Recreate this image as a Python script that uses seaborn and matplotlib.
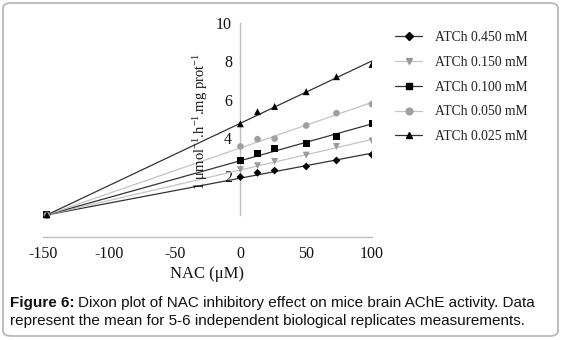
import numpy as np
import pandas as pd
import seaborn as sns
import matplotlib
matplotlib.use("Agg")
import matplotlib.pyplot as plt
from matplotlib.lines import Line2D
from matplotlib.patches import FancyBboxPatch

# ---- data ----
nac = [-147, 0, 13, 26, 50, 73, 100]
series_names = ["ATCh 0.450 mM", "ATCh 0.150 mM", "ATCh 0.100 mM", "ATCh 0.050 mM", "ATCh 0.025 mM"]
atch_0450 = [0.0, 1.97, 2.19, 2.31, 2.52, 2.83, 3.13]
atch_0150 = [0.0, 2.35, 2.56, 2.78, 3.11, 3.56, 3.85]
atch_0100 = [0.0, 2.83, 3.18, 3.47, 3.70, 4.08, 4.74]
atch_0050 = [0.0, 3.56, 3.94, 3.97, 4.65, 5.29, 5.76]
atch_0025 = [0.0, 4.74, 5.37, 5.64, 6.41, 7.19, 7.83]
x_ticks = [-150, -100, -50, 0, 50, 100]
y_ticks = [2, 4, 6, 8, 10]

sns.set_style("white")
plt.rcParams["font.family"] = ["Liberation Serif", "DejaVu Serif"]
plt.rcParams["mathtext.fontset"] = "custom"
plt.rcParams["mathtext.rm"] = "Liberation Serif"
plt.rcParams["mathtext.it"] = "Liberation Serif:italic"
plt.rcParams["axes.unicode_minus"] = False

W, H = 562, 340
fig = plt.figure(figsize=(W / 100, H / 100), dpi=100)
ax = fig.add_axes([43 / W, 1 - 237 / H, (372 - 43) / W, (237 - 22.7) / H])

styles = [
    dict(marker="D", ms=4.0, mc="#000000", lc="#333333"),
    dict(marker="v", ms=5.0, mc="#999999", lc="#c4c4c4"),
    dict(marker="s", ms=5.0, mc="#000000", lc="#333333"),
    dict(marker="o", ms=4.8, mc="#a0a0a0", lc="#c4c4c4"),
    dict(marker="^", ms=5.0, mc="#000000", lc="#333333"),
]
all_series = [atch_0450, atch_0150, atch_0100, atch_0050, atch_0025]

handles = []
xa = np.array(nac, dtype=float)
for name, vals, st in zip(series_names, all_series, styles):
    ya = np.array(vals, dtype=float)
    # trend line constrained through the common intersection point
    x0, y0 = xa[0], ya[0]
    slope = np.sum((xa[1:] - x0) * (ya[1:] - y0)) / np.sum((xa[1:] - x0) ** 2)
    fit_x = np.array([xa.min(), xa.max()])
    fit_y = y0 + slope * (fit_x - x0)
    sns.lineplot(x=fit_x, y=fit_y, ax=ax, color=st["lc"], lw=0.9, zorder=2)
    sns.scatterplot(x=xa, y=ya, ax=ax, marker=st["marker"], s=st["ms"] ** 2,
                    color=st["mc"], edgecolor="none", zorder=3)
    handles.append(Line2D([], [], color=st["lc"], lw=0.9, marker=st["marker"],
                          markersize=st["ms"], markerfacecolor=st["mc"],
                          markeredgecolor=st["mc"], label=name))

ax.set_xlim(-150, 100)
ax.set_ylim(-1.15, 10)
ax.set_xticks(x_ticks)
ax.set_xticklabels([str(v) for v in x_ticks])
ax.set_yticks(y_ticks)
ax.set_yticklabels([str(v) for v in y_ticks])

for s in ["top", "right"]:
    ax.spines[s].set_visible(False)
ax.spines["left"].set_position(("data", 0))
ax.spines["left"].set_bounds(0, 10)
for s in ["left", "bottom"]:
    ax.spines[s].set_color("#bdbdbd")
    ax.spines[s].set_linewidth(1.0)

ax.tick_params(axis="x", direction="in", length=4, width=0.8, color="#bdbdbd",
               labelsize=11.5, pad=6.5, labelcolor="#111111")
ax.tick_params(axis="y", direction="out", length=4, width=0.8, color="#bdbdbd",
               labelsize=11.5, pad=2, labelcolor="#111111")
ax.set_xlabel("NAC (μM)", fontsize=12, color="#111111", labelpad=3)
ax.set_ylabel("")
ax.text(-30, 4.85, r"1 μmol$^{-1}$.h$^{-1}$.mg prot$^{-1}$", rotation=90,
        ha="center", va="center", fontsize=10.5, color="#111111")

leg = fig.legend(handles=handles, loc="upper left", bbox_to_anchor=(383 / W, 1 - 19 / H),
                 frameon=False, fontsize=9.8, handlelength=2.0, labelspacing=0.86,
                 handletextpad=0.9)
for t in leg.get_texts():
    t.set_color("#222222")

# outer frame
frame = FancyBboxPatch((3 / W, 4 / H), (558 - 3) / W, (337 - 4) / H,
                       boxstyle="round,pad=0,rounding_size=0.015",
                       transform=fig.transFigure, fill=False,
                       edgecolor="#b8b8b8", lw=1.3)
fig.patches.append(frame)

# caption
cap_font = ["Liberation Sans", "DejaVu Sans"]
cap_size = 11
t1 = fig.text(10 / W, 1 - 302.5 / H, "Figure 6:", family=cap_font, weight="bold",
              fontsize=cap_size, va="center", ha="left", color="#111111")
fig.canvas.draw()
bb = t1.get_window_extent(fig.canvas.get_renderer())
fig.text(bb.x1 / W + 3 / W, 1 - 302.5 / H,
         "Dixon plot of NAC inhibitory effect on mice brain AChE activity. Data",
         family=cap_font, fontsize=cap_size, va="center", ha="left", color="#111111")
fig.text(10 / W, 1 - 321.5 / H,
         "represent the mean for 5-6 independent biological replicates measurements.",
         family=cap_font, fontsize=cap_size, va="center", ha="left", color="#111111")

fig.savefig("out.png", dpi=100)
